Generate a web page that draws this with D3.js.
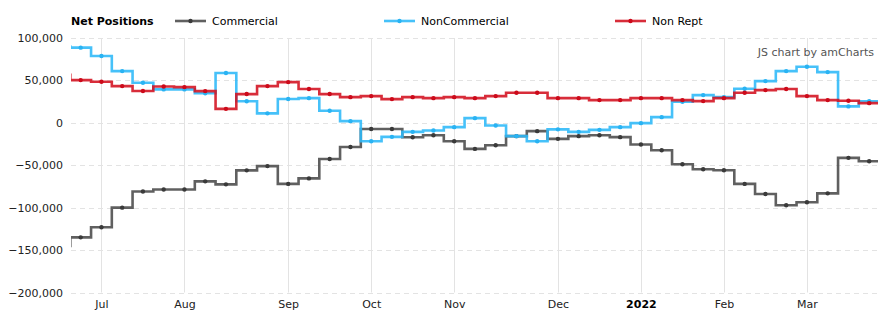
<!DOCTYPE html>
<html>
<head>
<meta charset="utf-8">
<script src="https://cdn.jsdelivr.net/npm/d3@7/dist/d3.min.js"></script>
<style>
  html, body { margin: 0; padding: 0; background: #fff; }
  svg { display: block; font-family: "DejaVu Sans", Verdana, sans-serif; }
</style>
</head>
<body>
<svg id="chart" width="895" height="326"></svg>
<script>
// Weekly report dates (Tuesdays)
const dates = [
  "2021-06-22","2021-06-29","2021-07-06","2021-07-13","2021-07-20","2021-07-27",
  "2021-08-03","2021-08-10","2021-08-17","2021-08-24","2021-08-31",
  "2021-09-07","2021-09-14","2021-09-21","2021-09-28",
  "2021-10-05","2021-10-12","2021-10-19","2021-10-26",
  "2021-11-02","2021-11-09","2021-11-16","2021-11-23","2021-11-30",
  "2021-12-07","2021-12-14","2021-12-21","2021-12-28",
  "2022-01-04","2022-01-11","2022-01-18","2022-01-25",
  "2022-02-01","2022-02-08","2022-02-15","2022-02-22",
  "2022-03-01","2022-03-08","2022-03-15","2022-03-22"
];
const commercial = [
  -145000,-135000,-123000,-100000,-81000,-78500,
  -78500,-69000,-72500,-56000,-51000,
  -72000,-65500,-42700,-28500,
  -7300,-7300,-17000,-14600,
  -21700,-30700,-26400,-15700,-9800,
  -18900,-15700,-14600,-16900,
  -25600,-32300,-48800,-54700,
  -55900,-72000,-83900,-97200,
  -93700,-83100,-41300,-45300
];
const nonCommercial = [
  90000,88600,78700,61000,47200,39400,
  39400,34800,58800,25500,11200,
  28100,29100,14200,2000,
  -21700,-16500,-10600,-9000,
  -5100,5500,-3100,-15700,-21700,
  -7700,-10600,-8300,-5100,
  -400,6700,24800,32700,
  30300,40200,49200,61000,
  66100,59800,19400,25500
];
const nonRept = [
  56500,50400,48400,43300,37500,42800,
  42100,37400,16500,33900,43300,
  48000,39800,33900,30300,
  31500,28000,30300,29100,
  30300,29100,31500,35400,35400,
  29100,29100,26800,26800,
  29100,29100,26800,25600,
  29100,35400,38600,39800,
  31500,26800,26000,23200
];
const yTicks = [100000, 50000, 0, -50000, -100000, -150000, -200000];
const seriesNames = ["Commercial", "NonCommercial", "Non Rept"];
const seriesValues = [commercial, nonCommercial, nonRept];
const lineColors = ["#4a4a4a", "#2cb8f8", "#d3101f"];
const dotColors = ["#3a3a3a", "#29b3f3", "#cc0a1a"];
const monthNames = ["Jan","Feb","Mar","Apr","May","Jun","Jul","Aug","Sep","Oct","Nov","Dec"];

const svg = d3.select("#chart");
const plot = { left: 71, right: 878, top: 38, bottom: 292.5 };

const parse = d3.timeParse("%Y-%m-%d");
const parsed = dates.map(parse);

// equal spacing per weekly report (empty periods skipped)
const x = d3.scaleLinear().domain([0.533, 39.425]).range([plot.left, plot.right]);
const y = d3.scaleLinear().domain([-200000, 100000]).range([plot.bottom, plot.top]);

// month ticks: first report of each month
const monthTicks = [];
parsed.forEach((d, i) => {
  if (i > 0 && d.getMonth() !== parsed[i - 1].getMonth()) monthTicks.push(i);
});

// clip
svg.append("defs").append("clipPath").attr("id", "clip")
  .append("rect")
  .attr("x", plot.left).attr("y", plot.top - 5)
  .attr("width", plot.right - plot.left).attr("height", plot.bottom - plot.top + 10);

// horizontal gridlines (dashed)
svg.append("g").selectAll("line").data(yTicks).join("line")
  .attr("x1", plot.left).attr("x2", plot.right)
  .attr("y1", d => Math.round(y(d)) + 0.5).attr("y2", d => Math.round(y(d)) + 0.5)
  .attr("stroke", "#e3e3e3").attr("stroke-dasharray", "5,4");

// vertical gridlines
svg.append("g").selectAll("line").data(monthTicks).join("line")
  .attr("x1", d => Math.round(x(d)) + 0.5).attr("x2", d => Math.round(x(d)) + 0.5)
  .attr("y1", plot.top).attr("y2", plot.bottom)
  .attr("stroke", "#e3e3e3");

// y axis labels
const yAxis = d3.axisLeft(y).tickValues(yTicks).tickSize(0).tickPadding(0)
  .tickFormat(d3.format(","));
const gy = svg.append("g").attr("transform", `translate(${plot.left - 8},0)`).call(yAxis);
gy.select(".domain").remove();
gy.selectAll("text").attr("font-size", 11).attr("fill", "#222")
  .attr("font-family", '"DejaVu Sans", Verdana, sans-serif');

// x axis labels
const xAxis = d3.axisBottom(x).tickValues(monthTicks).tickSize(0).tickPadding(0)
  .tickFormat(i => {
    const d = parsed[i];
    return d.getMonth() === 0 ? String(d.getFullYear()) : monthNames[d.getMonth()];
  });
const gx = svg.append("g").attr("transform", `translate(0,${plot.bottom + 8})`).call(xAxis);
gx.select(".domain").remove();
gx.selectAll("text").attr("font-size", 11).attr("fill", "#222")
  .attr("font-family", '"DejaVu Sans", Verdana, sans-serif')
  .attr("font-weight", i => parsed[i].getMonth() === 0 ? "bold" : "normal")
  .attr("fill", i => parsed[i].getMonth() === 0 ? "#000" : "#222");

// step lines
const line = d3.line().x(p => x(p[0])).y(p => y(p[1]));
const gSeries = svg.append("g").attr("clip-path", "url(#clip)");
seriesValues.forEach((vals, s) => {
  const pts = [];
  vals.forEach((v, i) => { pts.push([i - 0.5, v]); pts.push([i + 0.5, v]); });
  gSeries.append("path")
    .attr("d", line(pts))
    .attr("fill", "none")
    .attr("stroke", lineColors[s])
    .attr("stroke-opacity", 0.88)
    .attr("stroke-width", 2.6)
    .attr("stroke-linejoin", "miter");
  gSeries.append("g").selectAll("circle")
    .data(vals.map((v, i) => [i, v]).filter(p => x(p[0]) >= plot.left && x(p[0]) <= plot.right))
    .join("circle")
    .attr("cx", p => x(p[0])).attr("cy", p => y(p[1]))
    .attr("r", 2.2)
    .attr("fill", dotColors[s]);
});

// legend
const legend = svg.append("g");
legend.append("text").attr("x", 71).attr("y", 25)
  .attr("font-size", 11).attr("font-weight", "bold").attr("fill", "#000")
  .text("Net Positions");
const legendX = [175, 384, 615];
seriesNames.forEach((name, s) => {
  const g = legend.append("g").attr("transform", `translate(${legendX[s]},21)`);
  g.append("line").attr("x1", 0).attr("x2", 31).attr("y1", 0).attr("y2", 0)
    .attr("stroke", lineColors[s]).attr("stroke-opacity", 0.88).attr("stroke-width", 2.6);
  g.append("circle").attr("cx", 15.5).attr("cy", 0).attr("r", 2.2).attr("fill", dotColors[s]);
  g.append("text").attr("x", 37).attr("y", 4)
    .attr("font-size", 11).attr("fill", "#000").text(name);
});

// watermark
svg.append("text").attr("x", 874).attr("y", 56).attr("text-anchor", "end")
  .attr("font-size", 11).attr("fill", "#555").text("JS chart by amCharts");
</script>
</body>
</html>
